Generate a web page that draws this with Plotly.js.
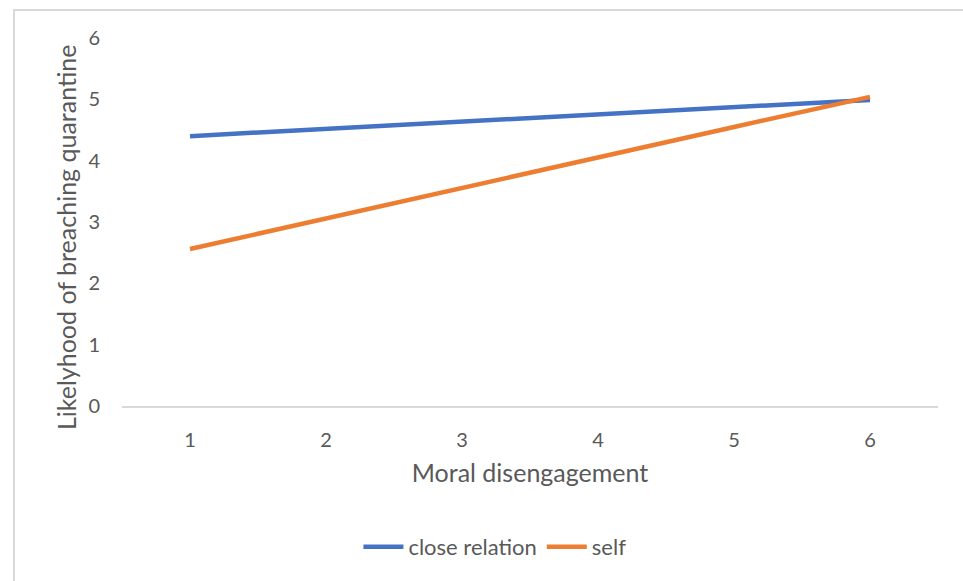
<!DOCTYPE html>
<html>
<head>
<meta charset="utf-8">
<script src="https://cdn.plot.ly/plotly-3.0.1.min.js"></script>
<style>
  html, body { margin: 0; padding: 0; background: #fff; overflow: hidden; }
  #frame { position: absolute; left: 13px; top: 9px; width: 1000px; height: 700px; border: 2px solid #d9d9d9; box-sizing: border-box; }
  #chart { position: absolute; left: 0; top: 0; width: 963px; height: 581px; }
</style>
</head>
<body>
<div id="frame"></div>
<div id="chart"></div>
<script>
const categories = ['1', '2', '3', '4', '5', '6'];
const closeRelation = [4.40, 4.52, 4.64, 4.76, 4.88, 4.99];
const self = [2.56, 3.06, 3.56, 4.05, 4.55, 5.04];
const yTicks = [0, 1, 2, 3, 4, 5, 6];
const yTitle = 'Likelyhood of breaching quarantine';
const xTitle = 'Moral disengagement';

const font = 'Lato, "Open Sans", sans-serif';
const grey = '#595959';

const traces = [
  { x: categories, y: closeRelation, name: 'close relation', type: 'scatter', mode: 'lines',
    line: { color: '#4472C4', width: 4.5 } },
  { x: categories, y: self, name: 'self', type: 'scatter', mode: 'lines',
    line: { color: '#ED7D31', width: 4.5 } }
];

const layout = {
  width: 963, height: 581,
  paper_bgcolor: 'rgba(0,0,0,0)', plot_bgcolor: 'rgba(0,0,0,0)',
  margin: { l: 122, r: 25, t: 38, b: 175 },
  font: { family: font, color: grey, size: 20 },
  showlegend: true,
  legend: { orientation: 'h', x: 0.457, xanchor: 'center', y: -0.383, yanchor: 'middle',
    font: { family: font, size: 22, color: grey }, itemwidth: 40 },
  xaxis: {
    type: 'category', range: [-0.5, 5.5], showgrid: false, zeroline: false,
    showline: true, linecolor: '#d9d9d9', linewidth: 1.5,
    ticks: '', ticklabelstandoff: 15, tickfont: { family: font, size: 20, color: grey },
    title: { text: xTitle, font: { family: font, size: 25, color: grey }, standoff: 15 },
    automargin: false, fixedrange: true
  },
  yaxis: {
    range: [0, 6], tickvals: yTicks, showgrid: false, zeroline: false, showline: false,
    ticks: '', ticklabelstandoff: 21, tickfont: { family: font, size: 20, color: grey },
    automargin: false, fixedrange: true
  },
  annotations: [{
    text: yTitle, xref: 'paper', yref: 'paper', x: 0, y: 0.459, xanchor: 'center', yanchor: 'middle',
    xshift: -56, textangle: -90, showarrow: false, font: { family: font, size: 25, color: grey }
  }]
};

Plotly.newPlot('chart', traces, layout, { displayModeBar: false, staticPlot: true });
</script>
</body>
</html>
